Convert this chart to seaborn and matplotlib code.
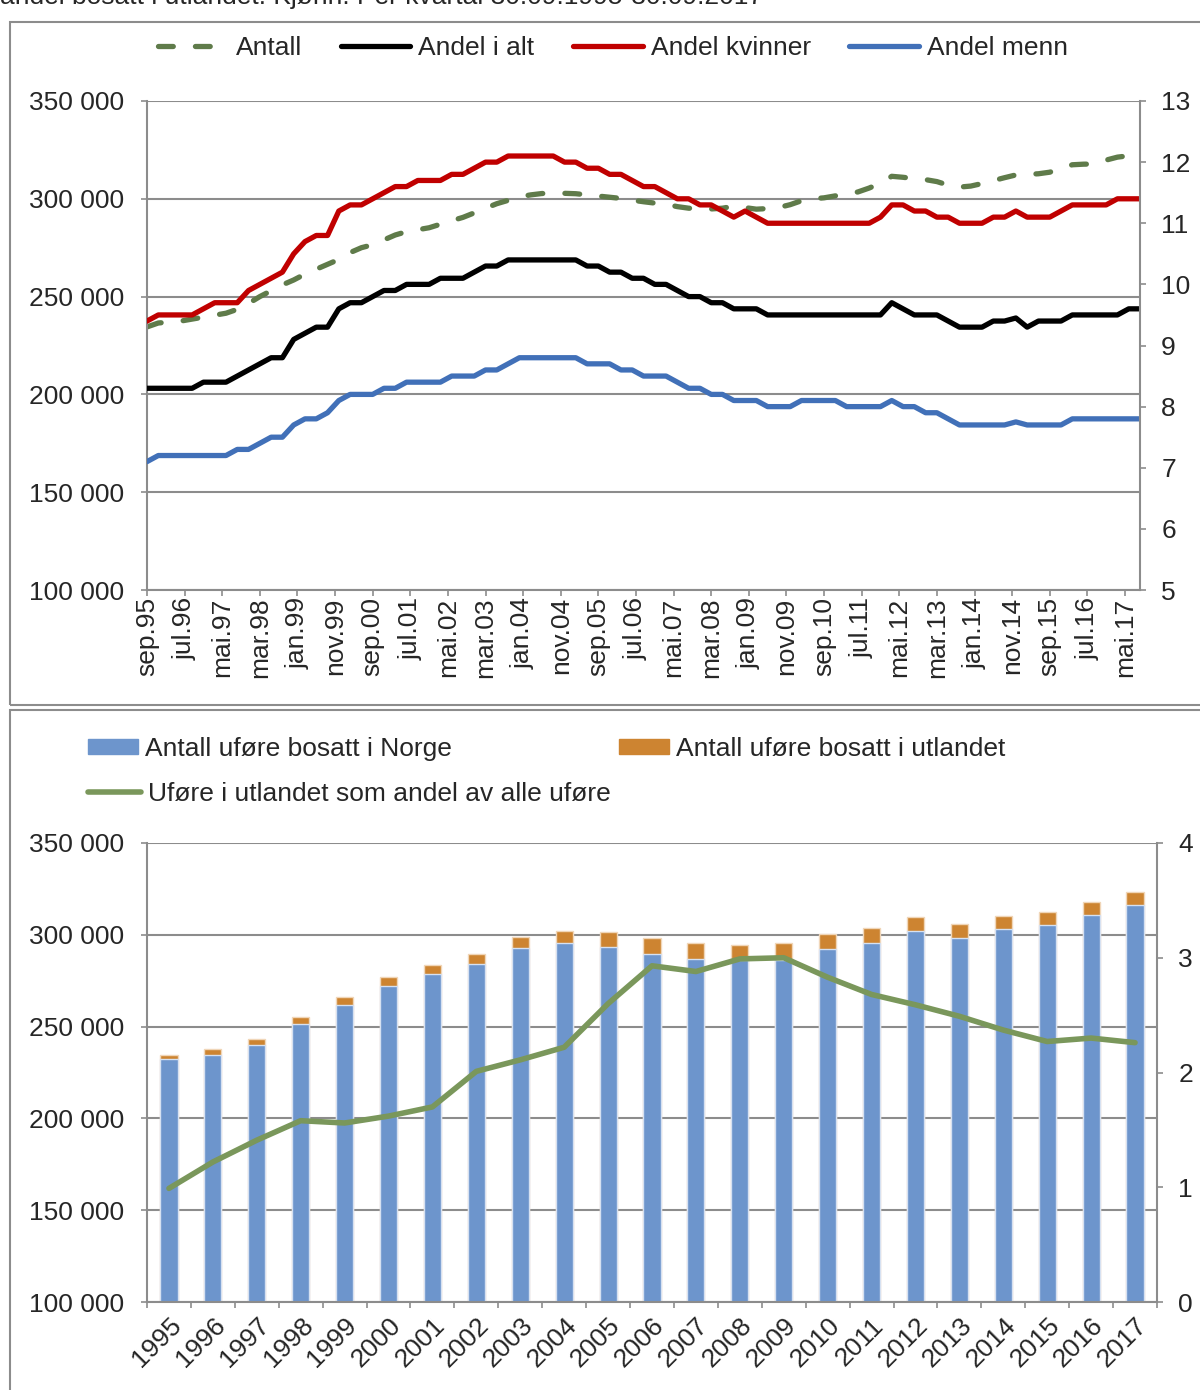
import numpy as np
import pandas as pd
import matplotlib
matplotlib.use('Agg')
import matplotlib.pyplot as plt
from matplotlib.patches import Rectangle, Patch
from matplotlib.lines import Line2D
from matplotlib.ticker import FuncFormatter
import seaborn as sns

sns.set_theme(style='white')
plt.rcParams['font.family'] = ['Liberation Sans', 'DejaVu Sans']

# --- top panel: quarterly values, 30.09.1995 onwards ---
antall = [234500, 236500, 237000, 237500, 238500, 239500, 240500, 241500, 243500, 246500,
          250000, 253000, 256000, 258500, 261500, 264000, 266500, 269000, 272500, 275000,
          276500, 279000, 281500, 283200, 284200, 285200, 287000, 288800, 290500, 292800,
          295200, 297500, 299200, 301000, 302000, 302700, 302800, 302800, 302600, 302000,
          301400, 300800, 300200, 299300, 298500, 297800, 297200, 296000, 295200, 294800,
          294800, 295200, 296200, 295500, 294700, 295000, 295600, 297000, 299000, 300000,
          300500, 301500, 302600, 303500, 305500, 308000, 311500, 311000, 310300, 309800,
          308800, 307000, 306000, 306500, 307800, 309300, 310800, 312200, 312500, 312800,
          313600, 315500, 317400, 317700, 317800, 319800, 321300, 322000, 322800]

andel_alt = [8.3, 8.3, 8.3, 8.3, 8.3, 8.4, 8.4, 8.4, 8.5, 8.6,
             8.7, 8.8, 8.8, 9.1, 9.2, 9.3, 9.3, 9.6, 9.7, 9.7,
             9.8, 9.9, 9.9, 10.0, 10.0, 10.0, 10.1, 10.1, 10.1, 10.2,
             10.3, 10.3, 10.4, 10.4, 10.4, 10.4, 10.4, 10.4, 10.4, 10.3,
             10.3, 10.2, 10.2, 10.1, 10.1, 10.0, 10.0, 9.9, 9.8, 9.8,
             9.7, 9.7, 9.6, 9.6, 9.6, 9.5, 9.5, 9.5, 9.5, 9.5,
             9.5, 9.5, 9.5, 9.5, 9.5, 9.5, 9.7, 9.6, 9.5, 9.5,
             9.5, 9.4, 9.3, 9.3, 9.3, 9.4, 9.4, 9.45, 9.3, 9.4,
             9.4, 9.4, 9.5, 9.5, 9.5, 9.5, 9.5, 9.6, 9.6]

andel_kvinner = [9.4, 9.5, 9.5, 9.5, 9.5, 9.6, 9.7, 9.7, 9.7, 9.9,
                 10.0, 10.1, 10.2, 10.5, 10.7, 10.8, 10.8, 11.2, 11.3, 11.3,
                 11.4, 11.5, 11.6, 11.6, 11.7, 11.7, 11.7, 11.8, 11.8, 11.9,
                 12.0, 12.0, 12.1, 12.1, 12.1, 12.1, 12.1, 12.0, 12.0, 11.9,
                 11.9, 11.8, 11.8, 11.7, 11.6, 11.6, 11.5, 11.4, 11.4, 11.3,
                 11.3, 11.2, 11.1, 11.2, 11.1, 11.0, 11.0, 11.0, 11.0, 11.0,
                 11.0, 11.0, 11.0, 11.0, 11.0, 11.1, 11.3, 11.3, 11.2, 11.2,
                 11.1, 11.1, 11.0, 11.0, 11.0, 11.1, 11.1, 11.2, 11.1, 11.1,
                 11.1, 11.2, 11.3, 11.3, 11.3, 11.3, 11.4, 11.4, 11.4]

andel_menn = [7.1, 7.2, 7.2, 7.2, 7.2, 7.2, 7.2, 7.2, 7.3, 7.3,
              7.4, 7.5, 7.5, 7.7, 7.8, 7.8, 7.9, 8.1, 8.2, 8.2,
              8.2, 8.3, 8.3, 8.4, 8.4, 8.4, 8.4, 8.5, 8.5, 8.5,
              8.6, 8.6, 8.7, 8.8, 8.8, 8.8, 8.8, 8.8, 8.8, 8.7,
              8.7, 8.7, 8.6, 8.6, 8.5, 8.5, 8.5, 8.4, 8.3, 8.3,
              8.2, 8.2, 8.1, 8.1, 8.1, 8.0, 8.0, 8.0, 8.1, 8.1,
              8.1, 8.1, 8.0, 8.0, 8.0, 8.0, 8.1, 8.0, 8.0, 7.9,
              7.9, 7.8, 7.7, 7.7, 7.7, 7.7, 7.7, 7.75, 7.7, 7.7,
              7.7, 7.7, 7.8, 7.8, 7.8, 7.8, 7.8, 7.8, 7.8]

top_tick_labels = ['sep.95', 'jul.96', 'mai.97', 'mar.98', 'jan.99', 'nov.99', 'sep.00',
                   'jul.01', 'mai.02', 'mar.03', 'jan.04', 'nov.04', 'sep.05', 'jul.06',
                   'mai.07', 'mar.08', 'jan.09', 'nov.09', 'sep.10', 'jul.11', 'mai.12',
                   'mar.13', 'jan.14', 'nov.14', 'sep.15', 'jul.16', 'mai.17']

# --- bottom panel: yearly values ---
years = [str(y) for y in range(1995, 2018)]
bosatt_norge = [232400, 234700, 240000, 251400, 261900, 272300, 278800, 283900, 292600, 295400,
                293600, 289800, 286700, 286300, 286500, 292300, 295300, 302100, 298300, 303000,
                305500, 310600, 316000]
bosatt_utland = [2300, 3100, 3400, 3600, 4400, 4500, 4600, 5600, 6200, 6700,
                 7800, 8500, 8600, 8100, 8800, 8100, 8600, 7600, 7500, 7200,
                 7100, 7300, 7200]
andel_utland = [0.99, 1.22, 1.41, 1.58, 1.56, 1.62, 1.70, 2.01, 2.11, 2.22, 2.60, 2.93,
                2.88, 2.99, 3.00, 2.83, 2.68, 2.59, 2.49, 2.37, 2.27, 2.30, 2.26]

# colours
c_antall = '#5f7b4a'
c_alt = '#000000'
c_kvinner = '#c00000'
c_menn = '#4170b8'
c_bar_no = '#6d95cc'
c_bar_ut = '#cd8431'
c_line_ut = '#7a975b'
c_grid = '#8c8c8c'
FS = 19

W, H = 1200, 1390
fig = plt.figure(figsize=(W / 100, H / 100), dpi=100)


def fx(px):
    return px / W


def fy(py):
    return 1 - py / H


thousands = FuncFormatter(lambda v, p: f'{v:,.0f}'.replace(',', ' '))


def style_axes(ax, axr):
    ax.set_axisbelow(True)
    ax.grid(axis='y', color=c_grid, lw=1.5)
    ax.grid(axis='x', visible=False)
    for s in ['top', 'right']:
        ax.spines[s].set_visible(False)
    for s in ['top', 'left', 'bottom']:
        axr.spines[s].set_visible(False)
    for s in ['left', 'bottom']:
        ax.spines[s].set_color(c_grid)
        ax.spines[s].set_linewidth(1.5)
    axr.spines['right'].set_color(c_grid)
    axr.spines['right'].set_linewidth(1.5)
    ax.yaxis.set_major_formatter(thousands)
    ax.tick_params(axis='y', direction='out', length=4.3, width=1.2, color=c_grid,
                   pad=12, labelsize=FS, left=True)
    axr.tick_params(axis='y', direction='out', length=4.3, width=1.2, color=c_grid,
                    pad=11, labelsize=FS, right=True)
    ax.set_xlabel('')
    ax.set_ylabel('')
    axr.set_xlabel('')
    axr.set_ylabel('')


# ---------------- top panel ----------------
df_top = pd.DataFrame({'maaned': np.arange(len(antall)) * 3,
                       'antall': antall,
                       'alt': andel_alt,
                       'kvinner': andel_kvinner,
                       'menn': andel_menn})

ax1 = fig.add_axes([fx(147), fy(590), fx(1140) - fx(147), fy(101) - fy(590)])
ax1r = ax1.twinx()

dash = (0, (2.8, 4.2))
sns.lineplot(data=df_top, x='maaned', y='antall', ax=ax1, color=c_antall, lw=3.8,
             linestyle=dash, dash_capstyle='round')
for col, c in [('alt', c_alt), ('kvinner', c_kvinner), ('menn', c_menn)]:
    sns.lineplot(data=df_top, x='maaned', y=col, ax=ax1r, color=c, lw=3.8,
                 solid_joinstyle='round')

ax1.set_xlim(0, 264)
ax1.set_ylim(100000, 350000)
ax1.set_yticks(range(100000, 350001, 50000))
ax1r.set_ylim(5, 13)
ax1r.set_yticks(range(5, 14))
ax1.set_xticks(np.arange(len(top_tick_labels)) * 10)
ax1.set_xticklabels(top_tick_labels, rotation=90)
style_axes(ax1, ax1r)
ax1.tick_params(axis='x', direction='out', length=4.3, width=1.2, color=c_grid,
                pad=1, labelsize=FS, bottom=True)

top_handles = [Line2D([], [], color=c_antall, lw=3.8, linestyle=dash, dash_capstyle='round'),
               Line2D([], [], color=c_alt, lw=3.8),
               Line2D([], [], color=c_kvinner, lw=3.8),
               Line2D([], [], color=c_menn, lw=3.8)]
fig.legend(top_handles, ['Antall', 'Andel i alt', 'Andel kvinner', 'Andel menn'],
           loc='center', bbox_to_anchor=(fx(613), fy(48)), ncol=4, frameon=False,
           fontsize=FS, handlelength=2.65, handletextpad=0.3, columnspacing=1.45,
           borderpad=0)

# ---------------- bottom panel ----------------
df_bot = pd.DataFrame({'aar': years, 'norge': bosatt_norge, 'utland': bosatt_utland,
                       'andel': andel_utland})
df_bot['total'] = df_bot['norge'] + df_bot['utland']
df_bot['pos'] = np.arange(len(years))

ax2 = fig.add_axes([fx(147), fy(1302), fx(1157) - fx(147), fy(843) - fy(1302)])
sns.barplot(data=df_bot, x='aar', y='total', ax=ax2, color=c_bar_ut, width=0.39,
            saturation=1, edgecolor='#f0d6b8', linewidth=1)
sns.barplot(data=df_bot, x='aar', y='norge', ax=ax2, color=c_bar_no, width=0.39,
            saturation=1, edgecolor='#d6e1f1', linewidth=1)
ax2r = ax2.twinx()
sns.lineplot(data=df_bot, x='pos', y='andel', ax=ax2r, color=c_line_ut, lw=4,
             solid_joinstyle='round')

ax2.set_xlim(-0.5, len(years) - 0.5)
ax2.set_ylim(100000, 350000)
ax2.set_yticks(range(100000, 350001, 50000))
ax2r.set_ylim(0, 4)
ax2r.set_yticks(range(0, 5))
style_axes(ax2, ax2r)
ax2.set_xticks(np.arange(len(years)))
ax2.set_xticklabels(years, rotation=45, ha='right', va='top', rotation_mode='anchor')
ax2.set_xticks(np.arange(len(years) + 1) - 0.5, minor=True)
ax2.tick_params(axis='x', which='major', length=0, pad=8, labelsize=FS)
ax2.tick_params(axis='x', which='minor', direction='out', length=4.3, width=1.2,
                color=c_grid, bottom=True)

leg_kw = dict(frameon=False, fontsize=FS, loc='center left', borderpad=0,
              borderaxespad=0, handletextpad=0.27)
fig.legend([Patch(color=c_bar_no)], ['Antall uføre bosatt i Norge'],
           bbox_to_anchor=(fx(88), fy(749)), handlelength=1.9, handleheight=0.5,
           **leg_kw)
fig.legend([Patch(color=c_bar_ut)], ['Antall uføre bosatt i utlandet'],
           bbox_to_anchor=(fx(619), fy(749)), handlelength=1.9, handleheight=0.5,
           **leg_kw)
fig.legend([Line2D([], [], color=c_line_ut, lw=4)],
           ['Uføre i utlandet som andel av alle uføre'],
           bbox_to_anchor=(fx(88), fy(794)), handlelength=2.0, **leg_kw)

# chart area borders and cut-off title
fig.add_artist(Rectangle((fx(10), fy(705)), fx(1210) - fx(10), fy(22) - fy(705),
                         transform=fig.transFigure, fill=False, edgecolor=c_grid, lw=1.5))
fig.add_artist(Rectangle((fx(10), fy(1400)), fx(1210) - fx(10), fy(710) - fy(1400),
                         transform=fig.transFigure, fill=False, edgecolor=c_grid, lw=1.5))
fig.text(fx(0), fy(4), 'andel bosatt i utlandet. Kjønn. Per kvartal 30.09.1995-30.09.2017',
         ha='left', va='baseline', fontsize=FS)

fig.savefig('out.png', dpi=100)
